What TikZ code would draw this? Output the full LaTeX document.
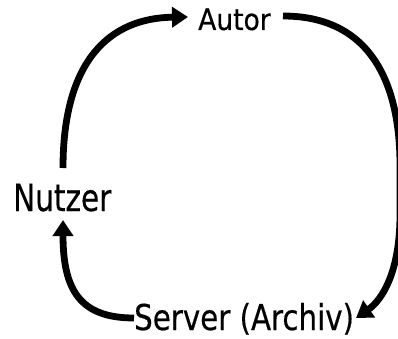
\documentclass[tikz,border=0pt]{standalone}
\usepackage{fontspec}
\setmainfont{DejaVu Sans Condensed}
\newfontfamily\lblfont[FakeBold=0.4]{DejaVu Sans Condensed}
\usetikzlibrary{arrows.meta}
\tikzset{
  lbl/.style={inner sep=0pt, anchor=base west},
  flow/.style={line width=6.8pt, -{Triangle[length=16pt,width=20pt]}}
}
\begin{document}
\begin{tikzpicture}[x=1pt,y=-1pt]
\useasboundingbox (0,0) rectangle (398,339);
\node[lbl, font=\lblfont\fontsize{29.5}{32}\selectfont, xscale=1.0, transform shape] (autor) at (198,30) {Autor};
\node[lbl, font=\lblfont\fontsize{37.5}{40}\selectfont, xscale=0.875, transform shape] (nutzer) at (13,211) {Nutzer};
\node[lbl, font=\lblfont\fontsize{35.6}{38}\selectfont, xscale=0.915, transform shape] (server) at (134,330) {Server (Archiv)};
\coordinate (a1s) at (63,168);
\coordinate (a1e) at (188,17);
\coordinate (a2s) at (283,16);
\coordinate (a2e) at (356,318);
\coordinate (a3s) at (134,318);
\coordinate (a3e) at (63,220);
\draw[flow] (a1s) .. controls (63,60) and (110,18) .. (a1e);
\draw[flow] (a2s) .. controls (375,16) and (400,90) .. (400,165) -- (400,215) .. controls (400,272) and (382,300) .. (a2e);
\draw[flow] (a3s) .. controls (80,318) and (63,290) .. (a3e);
\end{tikzpicture}
\end{document}
